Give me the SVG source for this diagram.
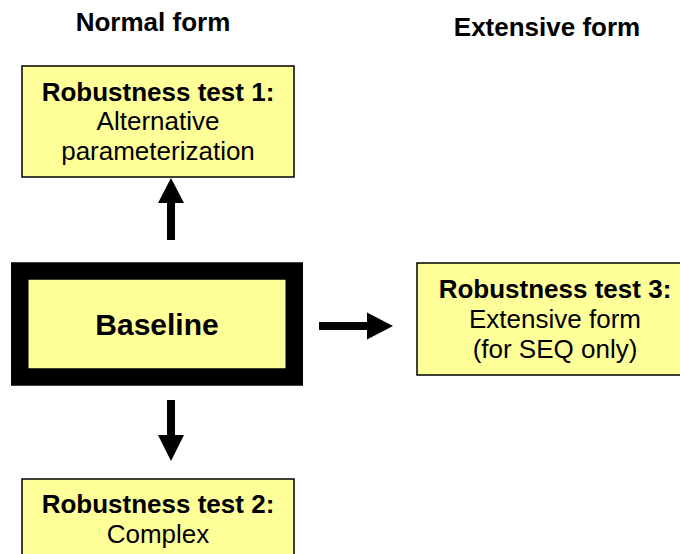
<svg xmlns="http://www.w3.org/2000/svg" width="680" height="554" viewBox="0 0 680 554">
  <style>
    text { font-family: "Liberation Sans", Arial, sans-serif; fill: #000; text-anchor: middle; }
    .hdr { font-size: 26px; font-weight: bold; }
    .ttl { font-size: 26px; font-weight: bold; }
    .sub { font-size: 26px; }
    .big { font-size: 30px; font-weight: bold; }
    .box { fill: #FFFF99; stroke: #000; stroke-width: 1.5; }
    .base { fill: #FFFF99; stroke: #000; stroke-width: 17.5; }
    .arrow { fill: #000; stroke: none; }
  </style>
  <rect width="680" height="554" fill="#fff"/>

  <!-- column headings -->
  <text class="hdr" x="153" y="31">Normal form</text>
  <text class="hdr" x="547" y="36">Extensive form</text>

  <g id="test1">
    <rect class="box" x="22" y="66" width="272" height="111"/>
    <text class="ttl" x="158" y="101">Robustness test 1:</text>
    <text class="sub" x="158" y="130">Alternative</text>
    <text class="sub" x="158" y="160">parameterization</text>
  </g>

  <g id="baseline">
    <rect class="base" x="19.75" y="271" width="274.5" height="106"/>
    <text class="big" x="157" y="335">Baseline</text>
  </g>

  <g id="test3">
    <rect class="box" x="417" y="263" width="276" height="112"/>
    <text class="ttl" x="555" y="298">Robustness test 3:</text>
    <text class="sub" x="555" y="328">Extensive form</text>
    <text class="sub" x="555" y="358">(for SEQ only)</text>
  </g>

  <g id="test2">
    <rect class="box" x="22" y="479" width="272" height="100"/>
    <text class="ttl" x="158" y="513">Robustness test 2:</text>
    <text class="sub" x="158" y="543">Complex</text>
  </g>

  <g id="connectors">
    <polygon class="arrow" points="171,178 184,203 175,203 175,240 167,240 167,203 158,203"/>
    <polygon class="arrow" points="167,400 175,400 175,435 184,435 171,461 158,435 167,435"/>
    <polygon class="arrow" points="319,322 367,322 367,312.5 393,326 367,339.5 367,330 319,330"/>
  </g>
</svg>
